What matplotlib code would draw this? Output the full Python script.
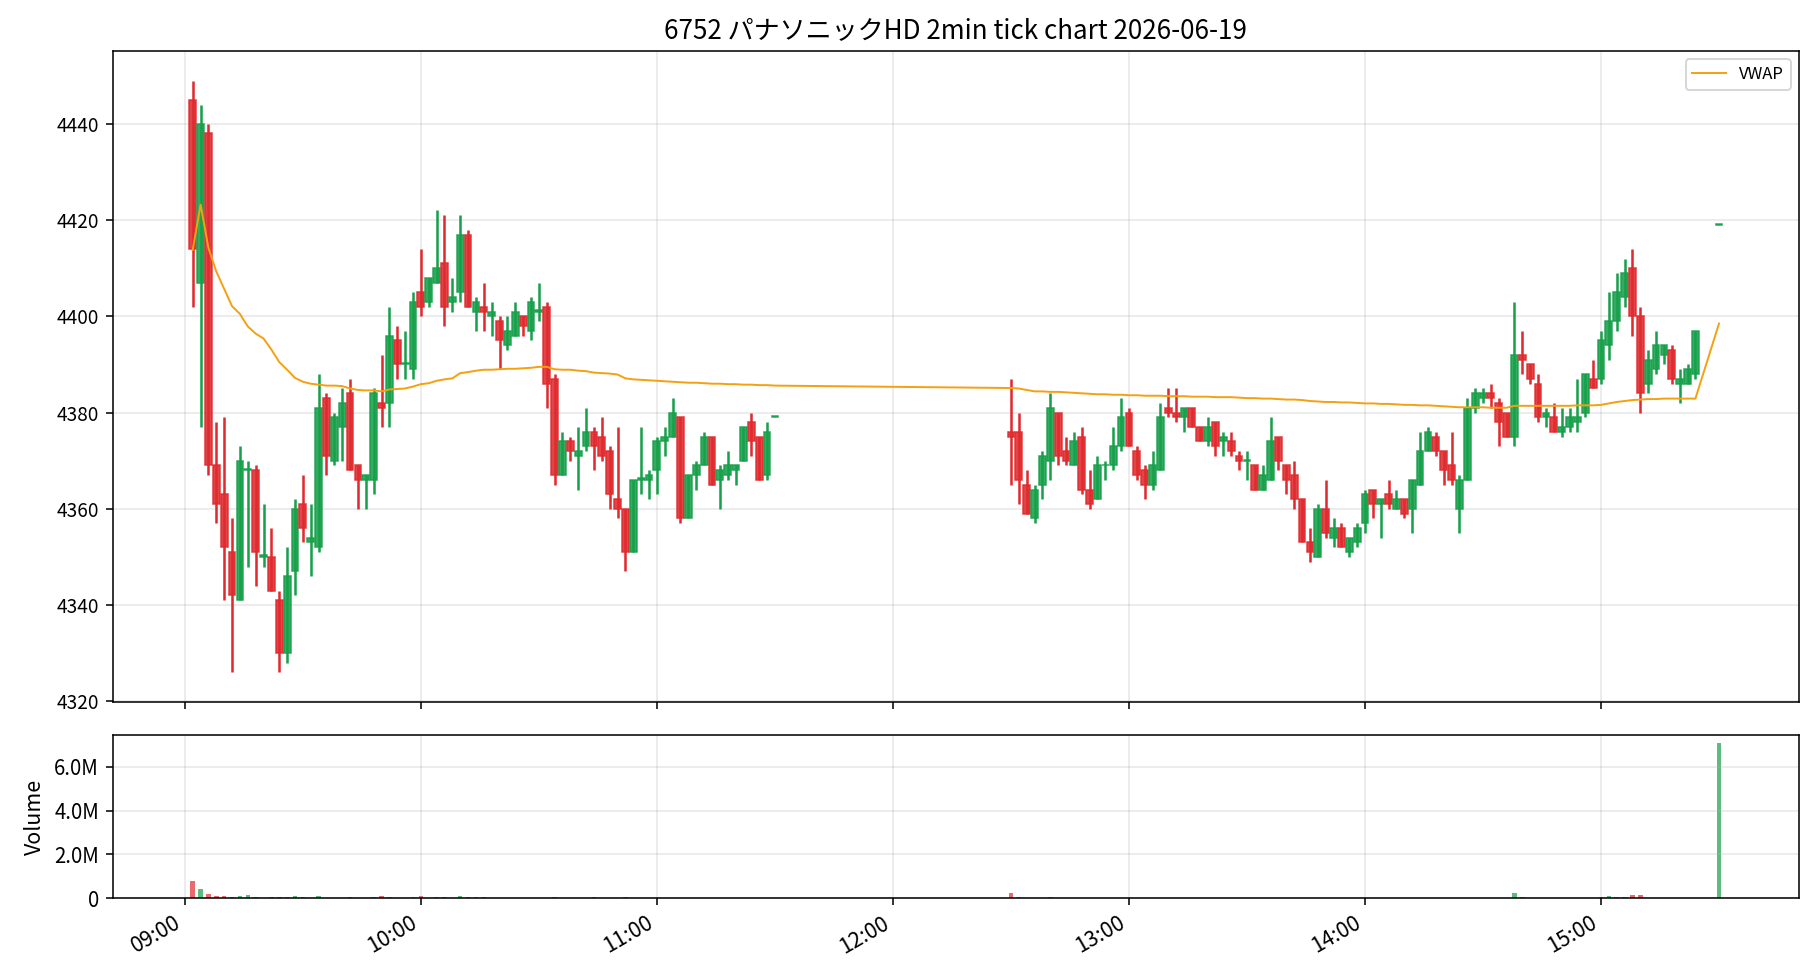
import numpy as np
import pandas as pd
import matplotlib
matplotlib.use('Agg')
import matplotlib.pyplot as plt
import matplotlib.dates as mdates
from matplotlib.ticker import MultipleLocator, FuncFormatter

plt.rcParams['font.family'] = ['Noto Sans CJK JP', 'DejaVu Sans']

title = '6752 パナソニックHD 2min tick chart 2026-06-19'
trade_date = '2026-06-19'
am_start, am_end = '09:02', '11:30'
pm_start, pm_end = '12:30', '15:24'
close_auction = '15:30'

am_open = [4445, 4407, 4438, 4369, 4363, 4351, 4341, 4368, 4368, 4350,
           4350, 4341, 4330, 4347, 4361, 4353, 4352, 4383, 4370, 4377,
           4384, 4369, 4366, 4366, 4382, 4382, 4395, 4390, 4389, 4405,
           4403, 4407, 4411, 4403, 4405, 4417, 4401, 4402, 4400, 4399,
           4394, 4396, 4400, 4397, 4401, 4402, 4387, 4367, 4374, 4371,
           4373, 4376, 4375, 4372, 4362, 4360, 4351, 4366, 4366, 4368,
           4374, 4375, 4379, 4358, 4367, 4369, 4375, 4366, 4367, 4368,
           4370, 4378, 4375, 4367, 4379]
am_high = [4449, 4444, 4440, 4378, 4379, 4358, 4373, 4370, 4369, 4361,
           4356, 4343, 4352, 4362, 4367, 4361, 4388, 4384, 4380, 4385,
           4387, 4369, 4367, 4385, 4392, 4402, 4398, 4397, 4405, 4414,
           4408, 4422, 4421, 4408, 4421, 4418, 4404, 4407, 4403, 4400,
           4400, 4403, 4400, 4404, 4407, 4403, 4388, 4376, 4375, 4377,
           4381, 4377, 4379, 4373, 4377, 4360, 4366, 4377, 4368, 4375,
           4377, 4383, 4379, 4367, 4370, 4376, 4375, 4369, 4372, 4369,
           4377, 4380, 4375, 4378, 4379]
am_low = [4402, 4377, 4367, 4357, 4341, 4326, 4341, 4348, 4344, 4348,
          4343, 4326, 4328, 4342, 4353, 4346, 4351, 4367, 4369, 4370,
          4368, 4360, 4360, 4363, 4377, 4377, 4387, 4387, 4387, 4400,
          4402, 4407, 4398, 4401, 4403, 4402, 4397, 4397, 4396, 4389,
          4393, 4396, 4396, 4395, 4399, 4381, 4365, 4367, 4370, 4364,
          4372, 4368, 4370, 4360, 4358, 4347, 4351, 4363, 4362, 4363,
          4371, 4375, 4357, 4358, 4364, 4369, 4365, 4360, 4366, 4365,
          4370, 4371, 4366, 4366, 4379]
am_close = [4414, 4440, 4369, 4361, 4352, 4342, 4370, 4368.3, 4351, 4350.3,
            4343, 4330, 4346, 4360, 4356, 4354, 4381, 4371, 4379, 4382,
            4368, 4366, 4367, 4384, 4381, 4396, 4390, 4390.3, 4403, 4402,
            4408, 4410, 4402, 4404, 4417, 4402, 4403, 4401, 4401, 4395,
            4397, 4401, 4398, 4403, 4401.3, 4386, 4367, 4374, 4372, 4372,
            4376, 4373, 4371, 4363, 4360, 4351, 4366, 4366.3, 4367, 4374,
            4375, 4380, 4358, 4367, 4369, 4375, 4365, 4368, 4369, 4369,
            4377, 4374, 4366, 4376, 4379.2]
am_volume_m = [0.80, 0.44, 0.21, 0.12, 0.12, 0.06, 0.12, 0.17, 0.08, 0.02,
               0.06, 0.06, 0.06, 0.12, 0.06, 0.03, 0.12, 0.03, 0.03, 0.03,
               0.08, 0.03, 0.03, 0.08, 0.12, 0.06, 0.03, 0.02, 0.06, 0.12,
               0.03, 0.08, 0.08, 0.02, 0.12, 0.08, 0.08, 0.08, 0.03, 0.03,
               0.03, 0.03, 0.03, 0.03, 0.03, 0.03, 0.08, 0.03, 0.03, 0.03,
               0.03, 0.06, 0.03, 0.03, 0.03, 0.06, 0.02, 0.02, 0.02, 0.02,
               0.02, 0.02, 0.03, 0.02, 0.02, 0.02, 0.02, 0.02, 0.01, 0.02,
               0.02, 0.02, 0.02, 0.02, 0.01]
am_vwap = [4413.8, 4423.2, 4414.2, 4409.3, 4405.7, 4402.1, 4400.5, 4397.9, 4396.4, 4395.4,
           4393.1, 4390.5, 4388.9, 4387.2, 4386.4, 4386.0, 4385.8, 4385.6, 4385.6, 4385.5,
           4385.0, 4384.7, 4384.6, 4384.6, 4384.4, 4384.8, 4384.9, 4385.0, 4385.4, 4385.9,
           4386.1, 4386.6, 4386.9, 4387.1, 4388.2, 4388.4, 4388.7, 4388.9, 4388.9, 4389.0,
           4389.1, 4389.1, 4389.2, 4389.3, 4389.5, 4389.5, 4389.0, 4388.9, 4388.9, 4388.7,
           4388.6, 4388.3, 4388.2, 4388.1, 4387.9, 4387.1, 4386.9, 4386.8, 4386.7, 4386.6,
           4386.5, 4386.4, 4386.3, 4386.2, 4386.2, 4386.1, 4386.0, 4386.0, 4385.9, 4385.9,
           4385.8, 4385.8, 4385.7, 4385.7, 4385.6]

pm_open = [4376, 4376, 4365, 4358, 4365, 4370, 4380, 4372, 4369, 4375,
           4364, 4362, 4369, 4369, 4373, 4380, 4372, 4368, 4365, 4368,
           4381, 4380, 4379, 4381, 4377, 4374, 4378, 4374, 4374, 4371,
           4370, 4369, 4364, 4366, 4375, 4369, 4367, 4362, 4353, 4350,
           4360, 4354, 4356, 4351, 4353, 4357, 4364, 4361, 4363, 4360,
           4362, 4360, 4365, 4372, 4375, 4372, 4369, 4360, 4366, 4381,
           4383, 4384, 4382, 4380, 4375, 4392, 4390, 4386, 4379, 4379,
           4376, 4377, 4378, 4380, 4387, 4387, 4394, 4399, 4404, 4410,
           4400, 4386, 4389, 4392, 4393, 4386, 4386, 4388]
pm_high = [4387, 4380, 4368, 4365, 4372, 4384, 4380, 4375, 4376, 4377,
           4368, 4371, 4370, 4377, 4383, 4381, 4373, 4369, 4372, 4382,
           4385, 4385, 4381, 4381, 4377, 4379, 4378, 4376, 4376, 4372,
           4372, 4369, 4369, 4379, 4375, 4369, 4370, 4362, 4356, 4361,
           4366, 4358, 4357, 4354, 4357, 4364, 4364, 4362, 4366, 4364,
           4362, 4366, 4376, 4377, 4376, 4372, 4376, 4367, 4383, 4385,
           4385, 4386, 4383, 4380, 4403, 4397, 4390, 4388, 4381, 4382,
           4381, 4381, 4387, 4388, 4391, 4397, 4405, 4409, 4412, 4414,
           4402, 4393, 4397, 4394, 4394, 4389, 4390, 4397]
pm_low = [4365, 4361, 4359, 4357, 4362, 4366, 4369, 4369, 4369, 4363,
          4360, 4362, 4366, 4368, 4372, 4373, 4366, 4362, 4364, 4368,
          4379, 4378, 4376, 4377, 4374, 4373, 4371, 4371, 4371, 4368,
          4366, 4364, 4364, 4366, 4368, 4363, 4360, 4353, 4349, 4350,
          4354, 4352, 4352, 4350, 4352, 4355, 4358, 4354, 4360, 4360,
          4358, 4355, 4365, 4372, 4371, 4365, 4365, 4355, 4366, 4380,
          4382, 4381, 4373, 4375, 4373, 4388, 4386, 4378, 4377, 4376,
          4375, 4376, 4376, 4379, 4385, 4386, 4391, 4397, 4402, 4396,
          4380, 4384, 4388, 4390, 4386, 4382, 4386, 4387]
pm_close = [4375, 4366, 4359, 4364, 4371, 4381, 4371, 4370, 4374, 4364,
            4361, 4369, 4369.2, 4373, 4379, 4373, 4367, 4365, 4369, 4379,
            4380, 4379, 4381, 4377, 4374, 4377, 4373, 4375, 4372, 4370,
            4370.2, 4364, 4367, 4374, 4370, 4366, 4362, 4353, 4351, 4360,
            4355, 4356, 4352, 4354, 4356, 4363, 4361, 4362, 4361, 4362,
            4359, 4366, 4372, 4376, 4372, 4368, 4366, 4366, 4381, 4384,
            4384, 4383, 4378, 4375, 4392, 4391, 4387, 4379, 4380, 4376,
            4377, 4379, 4379, 4388, 4385, 4395, 4399, 4405, 4409, 4400,
            4384, 4391, 4394, 4394, 4387, 4387, 4389, 4397]
pm_volume_m = [0.26, 0.06, 0.02, 0.02, 0.02, 0.08, 0.02, 0.02, 0.02, 0.02,
               0.02, 0.02, 0.01, 0.02, 0.02, 0.02, 0.02, 0.01, 0.02, 0.02,
               0.02, 0.02, 0.01, 0.02, 0.01, 0.01, 0.02, 0.01, 0.01, 0.01,
               0.01, 0.02, 0.01, 0.02, 0.01, 0.01, 0.02, 0.02, 0.02, 0.02,
               0.02, 0.01, 0.01, 0.01, 0.01, 0.02, 0.01, 0.01, 0.01, 0.01,
               0.01, 0.02, 0.02, 0.02, 0.01, 0.01, 0.01, 0.02, 0.02, 0.02,
               0.01, 0.01, 0.02, 0.02, 0.26, 0.06, 0.02, 0.02, 0.01, 0.01,
               0.01, 0.01, 0.01, 0.02, 0.02, 0.06, 0.12, 0.08, 0.08, 0.17,
               0.17, 0.02, 0.02, 0.02, 0.02, 0.02, 0.02, 0.03]
pm_vwap = [4385.1, 4385.0, 4384.7, 4384.4, 4384.4, 4384.3, 4384.3, 4384.2, 4384.1, 4384.0,
           4383.9, 4383.8, 4383.8, 4383.7, 4383.7, 4383.6, 4383.6, 4383.5, 4383.5, 4383.5,
           4383.4, 4383.4, 4383.4, 4383.3, 4383.3, 4383.3, 4383.2, 4383.2, 4383.2, 4383.1,
           4383.0, 4383.0, 4382.9, 4382.9, 4382.8, 4382.7, 4382.7, 4382.6, 4382.4, 4382.3,
           4382.2, 4382.2, 4382.1, 4382.1, 4382.0, 4381.9, 4381.9, 4381.8, 4381.8, 4381.7,
           4381.6, 4381.6, 4381.5, 4381.5, 4381.4, 4381.3, 4381.2, 4381.1, 4381.1, 4381.1,
           4381.1, 4381.0, 4381.0, 4381.0, 4381.4, 4381.4, 4381.4, 4381.4, 4381.4, 4381.4,
           4381.4, 4381.4, 4381.5, 4381.5, 4381.5, 4381.6, 4381.9, 4382.2, 4382.4, 4382.6,
           4382.7, 4382.8, 4382.8, 4382.9, 4382.9, 4382.9, 4382.9, 4382.9]

auction_ohlc = [4419, 4419, 4419, 4419.1]
auction_volume_m = 7.08
auction_vwap = 4398.5

UP = '#17a04a'
DOWN = '#e02a2e'
VWAP_COLOR = '#f5a00f'

# assemble
times = (list(pd.date_range(f'{trade_date} {am_start}', f'{trade_date} {am_end}', freq='2min'))
         + list(pd.date_range(f'{trade_date} {pm_start}', f'{trade_date} {pm_end}', freq='2min'))
         + [pd.Timestamp(f'{trade_date} {close_auction}')])
x = mdates.date2num(times)
o = np.array(am_open + pm_open + [auction_ohlc[0]], dtype=float)
h = np.array(am_high + pm_high + [auction_ohlc[1]], dtype=float)
l = np.array(am_low + pm_low + [auction_ohlc[2]], dtype=float)
c = np.array(am_close + pm_close + [auction_ohlc[3]], dtype=float)
vol = np.array(am_volume_m + pm_volume_m + [auction_volume_m]) * 1e6
vwap = np.array(am_vwap + pm_vwap + [auction_vwap])

colors = np.where(c >= o, UP, DOWN)

fig = plt.figure(figsize=(13, 7), dpi=140)
ax = fig.add_axes([0.0619, 0.2837, 0.9266, 0.6643])
axv = fig.add_axes([0.0619, 0.0832, 0.9266, 0.1668], sharex=ax)
ax.use_sticky_edges = False

ax.vlines(x, l, h, colors=colors, linewidth=1.3, zorder=2)
ax.bar(x, np.abs(c - o), bottom=np.minimum(o, c), width=0.0012,
       color=colors, edgecolor=colors, linewidth=0.8, alpha=0.88, zorder=3)
ax.plot(x, vwap, color=VWAP_COLOR, linewidth=1.0, label='VWAP', zorder=4)

axv.bar(x, vol, width=0.0008, color=colors, alpha=0.7)

ax.set_title(title, fontsize=13.4)
ax.legend(loc='upper right', fontsize=8.6)
ax.grid(True, alpha=0.3)
axv.grid(True, alpha=0.3)
ax.tick_params(labelbottom=False, labelsize=9.8)
axv.tick_params(axis='y', labelsize=10.5)
axv.tick_params(axis='x', labelsize=11)

axv.xaxis.set_major_locator(mdates.HourLocator())
axv.xaxis.set_major_formatter(mdates.DateFormatter('%H:%M'))
plt.setp(axv.get_xticklabels(), rotation=30, ha='right')
axv.yaxis.set_major_locator(MultipleLocator(2e6))
axv.yaxis.set_major_formatter(FuncFormatter(lambda v, p: '0' if v == 0 else f'{v/1e6:.1f}M'))
axv.set_ylabel('Volume', fontsize=11)

fig.savefig('out.png', dpi=140)
